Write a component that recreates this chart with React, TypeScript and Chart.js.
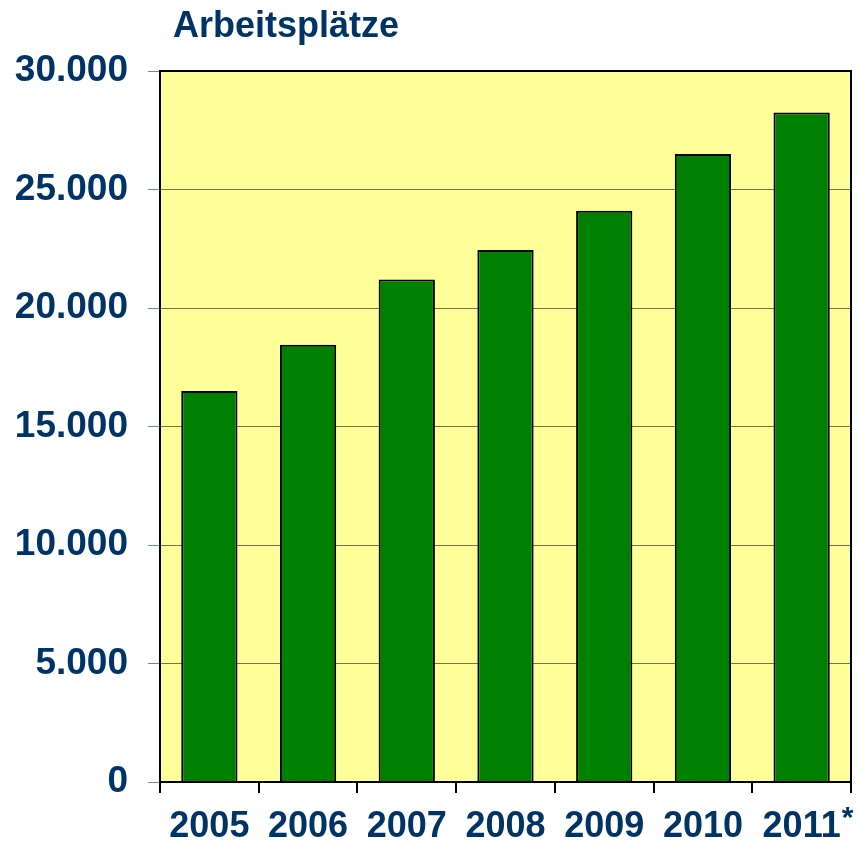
import React, { useEffect, useRef } from "react";
import { Chart, registerables } from "chart.js";

Chart.register(...registerables);

const categories = ["2005", "2006", "2007", "2008", "2009", "2010", "2011"];
const jobs = [16500, 18450, 21200, 22450, 24100, 26500, 28250];
const yTicks = [0, 5000, 10000, 15000, 20000, 25000, 30000];
const titleText = "Arbeitsplätze";
const footnoteMark = "*";
const footnoteIndex = 6;

const FONT = "'Liberation Sans', Arial, sans-serif";
const NAVY = "#003366";

function fmt(v: number) {
  return String(v).replace(/\B(?=(\d{3})+(?!\d))/g, ".");
}

const decor = {
  id: "decor",
  beforeDraw(chart: any) {
    const { ctx, chartArea: a } = chart;
    ctx.save();
    ctx.fillStyle = "#FFFF99";
    ctx.fillRect(a.left, a.top, a.right - a.left, a.bottom - a.top);
    ctx.restore();
  },
  afterDraw(chart: any) {
    const { ctx, chartArea: a } = chart;
    ctx.save();
    ctx.strokeStyle = "#000000";
    ctx.lineWidth = 2;
    ctx.strokeRect(a.left, a.top, a.right - a.left, a.bottom - a.top);
    // title
    ctx.fillStyle = NAVY;
    ctx.font = `bold 36px ${FONT}`;
    ctx.textBaseline = "alphabetic";
    ctx.textAlign = "left";
    ctx.fillText(titleText, a.left + 13, a.top - 34);
    // footnote mark
    const xs = chart.scales.x;
    const cx = xs.getPixelForValue(footnoteIndex);
    ctx.font = `bold 36px ${FONT}`;
    const w = ctx.measureText(categories[footnoteIndex]).width;
    ctx.font = `bold 30px ${FONT}`;
    ctx.fillText(footnoteMark, cx + w / 2 + 1, a.bottom + 45);
    ctx.restore();
  },
};

export default function App() {
  const ref = useRef<HTMLCanvasElement>(null);
  useEffect(() => {
    document.body.style.margin = "0";
    const chart = new Chart(ref.current!, {
      type: "bar",
      data: {
        labels: categories,
        datasets: [
          {
            data: jobs,
            backgroundColor: "#008000",
            borderColor: "#000000",
            borderWidth: 2,
            barPercentage: 0.57,
            categoryPercentage: 1,
          },
        ],
      },
      plugins: [decor],
      options: {
        responsive: false,
        animation: false,
        layout: { padding: { top: 71, right: 8, left: 0, bottom: 0 } },
        plugins: { legend: { display: false }, tooltip: { enabled: false }, title: { display: false } },
        scales: {
          x: {
            afterFit: (s: any) => {
              s.height = 64;
            },
            grid: {
              offset: true,
              drawOnChartArea: false,
              drawTicks: true,
              tickLength: 11,
              tickColor: "#000000",
              lineWidth: 2,
            },
            border: { display: true, color: "#000000", width: 2 },
            ticks: {
              color: NAVY,
              font: { family: FONT, size: 36, weight: "bold" },
              padding: 12,
              maxRotation: 0,
              autoSkip: false,
            },
          },
          y: {
            min: 0,
            max: 30000,
            afterFit: (s: any) => {
              s.width = 160;
            },
            afterBuildTicks: (s: any) => {
              s.ticks = yTicks.map((v) => ({ value: v }));
            },
            grid: {
              color: "rgba(0,0,0,0.55)",
              lineWidth: 1,
              tickLength: 12,
              tickColor: "#6b86a6",
            },
            border: { display: true, color: "#000000", width: 2 },
            ticks: {
              color: NAVY,
              font: { family: FONT, size: 37, weight: "bold" },
              padding: 20,
              callback: (v: any) => fmt(Number(v)),
            },
          },
        },
      },
    } as any);
    return () => chart.destroy();
  }, []);
  return (
    <div style={{ width: 859, height: 846 }}>
      <canvas ref={ref} width={859} height={846} />
    </div>
  );
}
